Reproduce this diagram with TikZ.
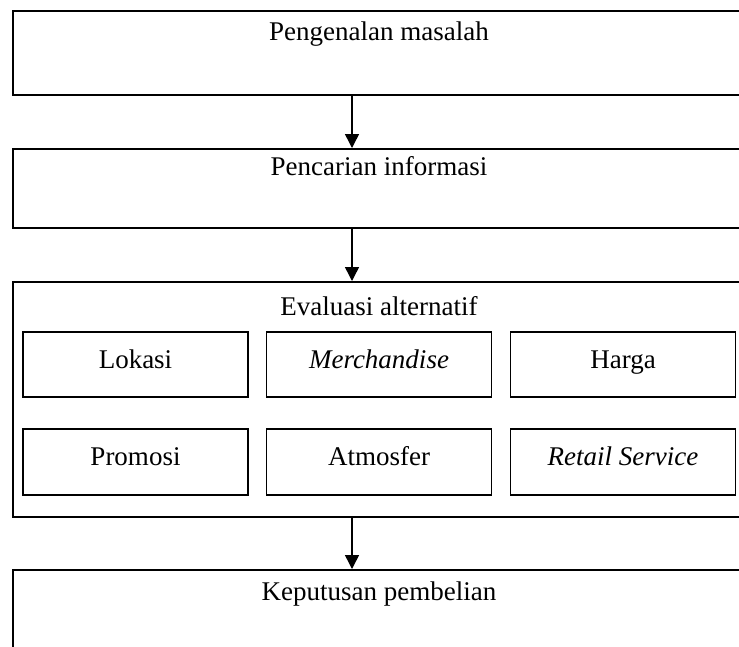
\documentclass[tikz,border=0pt]{standalone}
\usepackage{fontspec}
\setmainfont{Liberation Serif}
\usetikzlibrary{arrows.meta}
\begin{document}
\begin{tikzpicture}[x=1pt,y=-1pt,
	bigbox/.style={draw, line width=1.5pt, anchor=north west, minimum width=734pt, inner sep=0pt},
	smallbox/.style={draw, line width=1.5pt, minimum width=225pt, minimum height=65pt, inner sep=0pt, text height=18pt, text depth=11pt},
	title/.style={anchor=base, inner sep=0pt},
	arr/.style={line width=1.5pt, -{Triangle[length=14pt,width=14pt]}},
	font=\fontsize{27}{32}\selectfont]
	\useasboundingbox (0,0) rectangle (739,646);
	
	\node[bigbox, minimum height=84pt] (masalah) at (12,10) {};
	\node[bigbox, minimum height=79pt] (info) at (12,148) {};
	\node[bigbox, minimum height=235pt] (evaluasi) at (12,281) {};
	\node[bigbox, minimum height=111pt] (keputusan) at (12,569) {};
	
	\node[title] (masalahT) at (379,40) {Pengenalan masalah};
	\node[title] (infoT) at (379,175) {Pencarian informasi};
	\node[title] (evaluasiT) at (379,315) {Evaluasi alternatif};
	\node[title] (keputusanT) at (379,600) {Keputusan pembelian};
	
	\node[smallbox] (lokasi) at (135.5,364.5) {Lokasi};
	\node[smallbox] (merch) at (379,364.5) {\itshape Merchandise};
	\node[smallbox] (harga) at (623,364.5) {Harga};
	\node[smallbox, minimum height=66pt] (promosi) at (135.5,462) {Promosi};
	\node[smallbox, minimum height=66pt] (atmosfer) at (379,462) {Atmosfer};
	\node[smallbox, minimum height=66pt] (service) at (623,462) {\itshape Retail Service};
	
	\coordinate (ax) at (352,0);
	\draw[arr] (masalah.south -| ax) -- (info.north -| ax);
	\draw[arr] (info.south -| ax) -- (evaluasi.north -| ax);
	\draw[arr] (evaluasi.south -| ax) -- (keputusan.north -| ax);
\end{tikzpicture}
\end{document}
